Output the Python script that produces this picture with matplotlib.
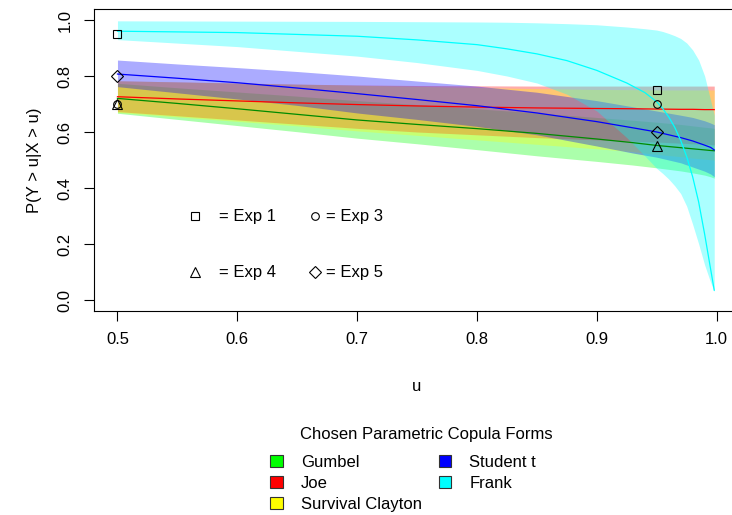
import matplotlib.pyplot as plt
from matplotlib.patches import Patch

plt.rcParams['font.family'] = ['Liberation Sans', 'DejaVu Sans']

# u grid used for most copula curves
u = [0.5, 0.55, 0.6, 0.65, 0.7, 0.75, 0.8, 0.85, 0.9, 0.93, 0.95, 0.97, 0.98, 0.99, 0.995, 0.998]

# Gumbel (green)
gum_lo = [0.667, 0.645, 0.623, 0.601, 0.578, 0.558, 0.537, 0.515, 0.495, 0.482, 0.472, 0.461, 0.454, 0.446, 0.440, 0.435]
gum_hi = [0.774, 0.758, 0.743, 0.728, 0.712, 0.698, 0.683, 0.668, 0.652, 0.642, 0.635, 0.627, 0.622, 0.617, 0.615, 0.613]
gum_fit = [0.720, 0.702, 0.683, 0.663, 0.643, 0.627, 0.612, 0.595, 0.575, 0.562, 0.552, 0.544, 0.540, 0.536, 0.534, 0.533]

# Joe (red)
joe_lo = [0.673, 0.658, 0.643, 0.628, 0.613, 0.600, 0.590, 0.580, 0.572, 0.567, 0.564, 0.560, 0.558, 0.556, 0.555, 0.554]
joe_hi = [0.783, 0.779, 0.775, 0.771, 0.768, 0.766, 0.765, 0.764, 0.764, 0.764, 0.764, 0.764, 0.764, 0.764, 0.764, 0.764]
joe_fit = [0.726, 0.718, 0.711, 0.704, 0.698, 0.693, 0.689, 0.686, 0.684, 0.683, 0.682, 0.681, 0.681, 0.680, 0.680, 0.680]

# Survival Clayton (yellow)
sc_lo = [0.670, 0.654, 0.638, 0.622, 0.604, 0.588, 0.572, 0.556, 0.540, 0.530, 0.520, 0.512, 0.507, 0.503, 0.501, 0.500]
sc_hi = [0.783, 0.779, 0.775, 0.771, 0.767, 0.763, 0.759, 0.755, 0.752, 0.751, 0.750, 0.750, 0.750, 0.750, 0.750, 0.750]

# Student t (blue)
st_lo = [0.762, 0.740, 0.718, 0.695, 0.668, 0.645, 0.620, 0.590, 0.550, 0.525, 0.510, 0.490, 0.475, 0.460, 0.450, 0.440]
st_hi = [0.857, 0.843, 0.830, 0.816, 0.800, 0.782, 0.764, 0.742, 0.712, 0.690, 0.675, 0.660, 0.652, 0.640, 0.632, 0.626]
st_fit = [0.807, 0.792, 0.776, 0.757, 0.737, 0.716, 0.694, 0.668, 0.637, 0.615, 0.600, 0.580, 0.568, 0.553, 0.545, 0.536]

# Frank (cyan), finer grid near u = 1
u_fr = [0.5, 0.6, 0.7, 0.75, 0.8, 0.825, 0.85, 0.875, 0.9, 0.925, 0.94, 0.95, 0.955, 0.96, 0.965, 0.97,
        0.975, 0.98, 0.985, 0.99, 0.994, 0.998]
fr_lo = [0.930, 0.905, 0.871, 0.848, 0.820, 0.800, 0.775, 0.735, 0.675, 0.580, 0.515, 0.470, 0.452, 0.432,
         0.408, 0.380, 0.335, 0.270, 0.200, 0.125, 0.075, 0.030]
fr_hi = [0.997, 0.996, 0.995, 0.994, 0.993, 0.992, 0.990, 0.987, 0.983, 0.975, 0.969, 0.964, 0.959, 0.952,
         0.944, 0.934, 0.918, 0.893, 0.857, 0.800, 0.730, 0.660]
fr_fit = [0.960, 0.955, 0.942, 0.929, 0.912, 0.897, 0.879, 0.855, 0.820, 0.775, 0.741, 0.708, 0.684, 0.654,
          0.617, 0.570, 0.512, 0.440, 0.350, 0.235, 0.135, 0.035]

# empirical points
u_exp = [0.5, 0.95]
exp1 = [0.95, 0.75]
exp3 = [0.70, 0.70]
exp4 = [0.70, 0.55]
exp5 = [0.80, 0.60]

copula_names = ['Gumbel', 'Joe', 'Survival Clayton', 'Student t', 'Frank']
copula_cols = ['#00FF00', '#FF0000', '#FFFF00', '#0000FF', '#00FFFF']

fig = plt.figure(figsize=(7.32, 5.15), dpi=100)
ax = fig.add_axes([93.5 / 732, 1 - 311.2 / 515, (740.6 - 93.5) / 732, (311.2 - 8.8) / 515])

a = 0.33
ax.fill_between(u, gum_lo, gum_hi, color=copula_cols[0], alpha=a, lw=0)
ax.plot(u, gum_fit, color='#008B00', lw=0.9)
ax.fill_between(u, joe_lo, joe_hi, color=copula_cols[1], alpha=a, lw=0)
ax.plot(u, joe_fit, color=copula_cols[1], lw=0.9)
ax.fill_between(u, sc_lo, sc_hi, color=copula_cols[2], alpha=a, lw=0)
ax.fill_between(u, st_lo, st_hi, color=copula_cols[3], alpha=a, lw=0)
ax.plot(u, st_fit, color=copula_cols[3], lw=0.9)
ax.fill_between(u_fr, fr_lo, fr_hi, color=copula_cols[4], alpha=a, lw=0)
ax.plot(u_fr, fr_fit, color=copula_cols[4], lw=0.9)

mk = dict(mfc='none', mec='black', mew=0.8, ls='none')
ax.plot(u_exp, exp1, marker='s', ms=6, **mk)
ax.plot(u_exp, exp3, marker='o', ms=5.5, **mk)
ax.plot(u_exp, exp4, marker='^', ms=7, **mk)
ax.plot(u_exp, exp5, marker='D', ms=6, **mk)

# legend for the symbols, inside the plot
ax.plot([0.565], [0.3], marker='s', ms=6, **mk)
ax.plot([0.665], [0.3], marker='o', ms=5.5, **mk)
ax.plot([0.565], [0.1], marker='^', ms=7, **mk)
ax.plot([0.665], [0.1], marker='D', ms=6, **mk)
ax.text(0.585, 0.3, '= Exp 1', fontsize=12, va='center')
ax.text(0.674, 0.3, '= Exp 3', fontsize=12, va='center')
ax.text(0.585, 0.1, '= Exp 4', fontsize=12, va='center')
ax.text(0.674, 0.1, '= Exp 5', fontsize=12, va='center')

ax.set_xlim(0.48, 1.02)
ax.set_ylim(-0.04, 1.04)
ax.set_xticks([0.5, 0.6, 0.7, 0.8, 0.9, 1.0])
ax.set_xticklabels(['0.5', '0.6', '0.7', '0.8', '0.9', '1.0'])
ax.set_yticks([0.0, 0.2, 0.4, 0.6, 0.8, 1.0])
ax.set_yticklabels(['0.0', '0.2', '0.4', '0.6', '0.8', '1.0'], rotation=90, va='center')
ax.tick_params(length=7, width=0.8, labelsize=12, pad=8)
for s in ax.spines.values():
    s.set_linewidth(0.8)
ax.set_xlabel('u', fontsize=12, labelpad=23)
ax.set_ylabel('P(Y > u|X > u)', fontsize=12, labelpad=11)

handles = [Patch(facecolor=c, edgecolor='#333333', lw=0.8) for c in copula_cols]
fig.legend(handles, copula_names, ncol=2, frameon=False, fontsize=12,
           loc='upper left', bbox_to_anchor=(270 / 732, 1 - 455 / 515),
           handlelength=0.75, handleheight=0.7, handletextpad=1.1,
           columnspacing=1.0, labelspacing=0.36, borderpad=0, borderaxespad=0)
fig.text(426 / 732, 1 - 434 / 515, 'Chosen Parametric Copula Forms', fontsize=12,
         ha='center', va='center')

fig.savefig('out.png', dpi=100)
